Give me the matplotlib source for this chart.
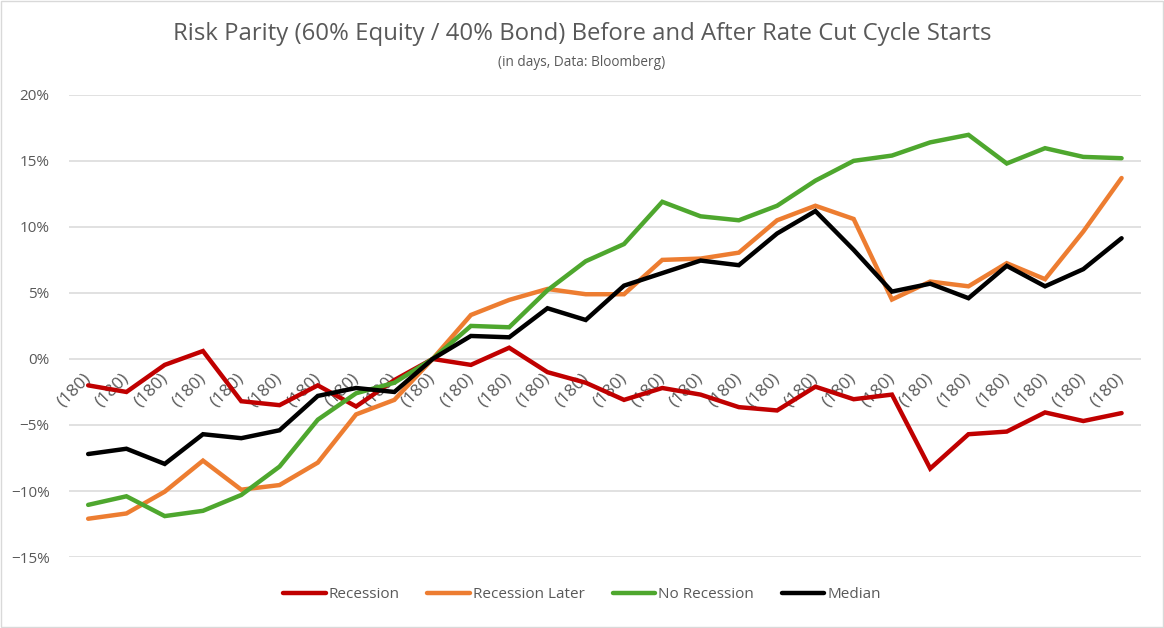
import matplotlib.pyplot as plt
import matplotlib.ticker as mtick
from matplotlib.patches import Rectangle

plt.rcParams['font.family'] = ['Open Sans', 'DejaVu Sans']

# data (percent)
labels = ["(180)"] * 28
recession = [-2.0, -2.5, -0.45, 0.6, -3.2, -3.5, -2.0, -3.6, -1.6, 0.0, -0.45, 0.85, -1.0, -1.8,
             -3.1, -2.2, -2.7, -3.65, -3.9, -2.1, -3.05, -2.7, -8.3, -5.7, -5.5, -4.05, -4.7, -4.1]
recession_later = [-12.1, -11.7, -10.05, -7.7, -9.9, -9.55, -7.85, -4.2, -3.1, 0.0, 3.33, 4.47, 5.3, 4.9,
                   4.9, 7.5, 7.6, 8.05, 10.5, 11.6, 10.6, 4.5, 5.86, 5.5, 7.25, 6.04, 9.65, 13.7]
no_recession = [-11.05, -10.4, -11.9, -11.5, -10.3, -8.15, -4.6, -2.6, -1.8, 0.0, 2.5, 2.4, 5.2, 7.4,
                8.7, 11.9, 10.8, 10.5, 11.6, 13.5, 15.0, 15.4, 16.4, 16.97, 14.8, 15.96, 15.3, 15.2]
median = [-7.2, -6.8, -7.95, -5.7, -6.0, -5.4, -2.8, -2.2, -2.5, 0.0, 1.74, 1.64, 3.84, 2.95,
          5.55, 6.5, 7.45, 7.1, 9.5, 11.2, 8.26, 5.1, 5.7, 4.6, 7.05, 5.5, 6.8, 9.14]

series = [
    ("Recession", recession, "#C00000"),
    ("Recession Later", recession_later, "#ED7D31"),
    ("No Recession", no_recession, "#4EA72E"),
    ("Median", median, "#000000"),
]

fig = plt.figure(figsize=(11.64, 6.28), dpi=100)
ax = fig.add_axes([0.0593, 0.113, 0.9207, 0.736])

x = list(range(len(labels)))
for name, vals, col in series:
    ax.plot(x, [v / 100 for v in vals], color=col, lw=3.2, label=name,
            solid_joinstyle="miter", solid_capstyle="round", zorder=3)

ax.set_xlim(-0.5, len(labels) - 0.5)
ax.set_ylim(-0.15, 0.20)
ax.yaxis.set_major_locator(mtick.MultipleLocator(0.05))
ax.yaxis.set_major_formatter(mtick.PercentFormatter(1.0, decimals=0))
ax.grid(axis="y", color="#D9D9D9", lw=1.1, zorder=0)
ax.set_axisbelow(True)

for s in ["top", "right", "left"]:
    ax.spines[s].set_visible(False)
ax.spines["bottom"].set_position(("data", 0))
ax.spines["bottom"].set_visible(False)

ax.set_xticks(x)
ax.set_xticklabels(labels, rotation=45, ha="right", va="center", rotation_mode="anchor")
ax.tick_params(axis="x", length=0, pad=12, labelsize=12.5, labelcolor="#595959")
ax.tick_params(axis="y", length=0, pad=14, labelsize=11, labelcolor="#595959")

fig.text(0.5, 0.946, "Risk Parity (60% Equity / 40% Bond) Before and After Rate Cut Cycle Starts",
         ha="center", va="center", fontsize=17.2, color="#595959")
fig.text(0.5, 0.901, "(in days, Data: Bloomberg)", ha="center", va="center",
         fontsize=9.8, color="#595959")

fig.legend(loc="center", bbox_to_anchor=(0.5, 0.053), ncol=4, frameon=False,
           fontsize=11, handlelength=2.8, handletextpad=0.2, columnspacing=1.8,
           labelcolor="#595959")

fig.patches.append(Rectangle((0.001, 0.001), 0.998, 0.997, transform=fig.transFigure,
                             fill=False, edgecolor="#D9D9D9", lw=1))

fig.savefig("out.png", dpi=100)
